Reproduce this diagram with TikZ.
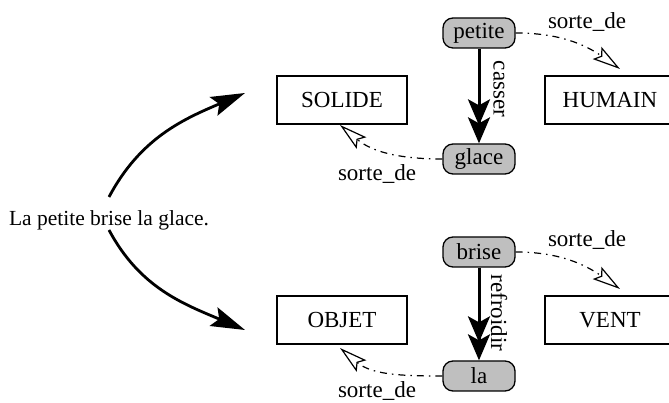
\documentclass[tikz,border=0pt]{standalone}
\usepackage{fontspec}
\setmainfont{Liberation Serif}
\usetikzlibrary{arrows.meta}
\begin{document}
\begin{tikzpicture}[x=1pt,y=1pt,
  every node/.style={font=\fontsize{23}{28}\selectfont},
  concept/.style={draw, line width=2.4pt, minimum width=130pt, minimum height=48pt, inner sep=0pt},
  word/.style={draw, fill=gray!50, rounded corners=10pt, line width=1.3pt,
    minimum width=72pt, minimum height=30pt, inner sep=0pt},
  reading/.style={line width=2.8pt, -{Stealth[length=34pt,width=20pt,inset=6pt]}},
  relation/.style={line width=3pt,
    -{Stealth[length=26pt,width=22pt,inset=6pt,sep=-8pt] Stealth[length=26pt,width=22pt,inset=6pt]}},
  isa/.style={line width=1.2pt, dash pattern=on 7pt off 5pt on 1.5pt off 5pt,
    -{Stealth[open,fill=white,length=28pt,width=15pt,inset=5pt,line width=1.2pt]}},
  rel label/.style={rotate=-90},
  isa label/.style={anchor=base},
]
\useasboundingbox (0,0) rectangle (669,403);

% the sentence and its two readings
\node[anchor=base, font=\fontsize{21.5}{26}\selectfont] (sent) at (109,177) {La petite brise la glace.};
\coordinate (up) at (245,310);
\coordinate (down) at (245,73);
\draw[reading] ([yshift=29pt]sent.base) to[out=62,in=203] (up);
\draw[reading] ([yshift=-4pt]sent.base) to[out=-62,in=157] (down);

% first reading
\node[concept] (solide) at (342,303) {SOLIDE};
\node[concept] (humain) at (610,303) {HUMAIN};
\node[word] (petite) at (479,370) {petite};
\node[word] (glace) at (479,244) {glace};
\draw[relation] (petite) -- (glace);
\node[rel label] (casser) at (499,314) {casser};
\coordinate (h1) at (620,334);
\coordinate (s1) at (340,278);
\draw[isa] (petite.east) to[out=0,in=145] (h1);
\draw[isa] (glace.west) to[out=180,in=-40] (s1);
\node[isa label] (l1) at (587,374) {sorte\_de};
\node[isa label] (l2) at (377,222) {sorte\_de};

% second reading
\node[concept] (objet) at (342,83) {OBJET};
\node[concept] (vent) at (610,83) {VENT};
\node[word] (brise) at (479,151) {brise};
\node[word] (la) at (479,27) {la};
\draw[relation] (brise) -- (la);
\node[rel label] (refroidir) at (499,90) {refroidir};
\coordinate (h2) at (620,114);
\coordinate (s2) at (340,55);
\draw[isa] (brise.east) to[out=0,in=145] (h2);
\draw[isa] (la.west) to[out=180,in=-40] (s2);
\node[isa label] (l3) at (587,156) {sorte\_de};
\node[isa label] (l4) at (377,5) {sorte\_de};
\end{tikzpicture}
\end{document}
